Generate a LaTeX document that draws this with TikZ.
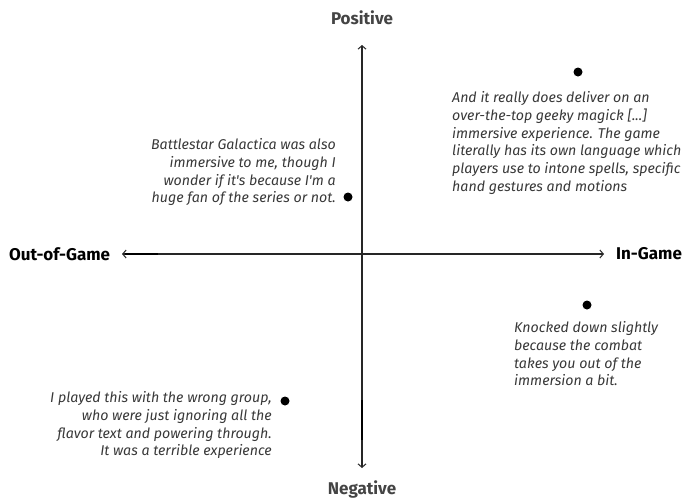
\documentclass[tikz,border=0pt]{standalone}
\usepackage{fontspec}
\usetikzlibrary{arrows.meta}
\newfontfamily\quotefont{Fira Sans}
\newfontfamily\labelfont{Fira Sans}
\definecolor{axisgray}{HTML}{444444}
\tikzset{
  axisline/.style={line width=1.1pt, black!85, {Straight Barb[length=3.5pt,width=8pt,line width=1pt]}-{Straight Barb[length=3.5pt,width=8pt,line width=1pt]}},
  axislabel/.style={font=\labelfont\bfseries\fontsize{17}{19}\selectfont, inner sep=0pt},
  quote/.style={font=\quotefont\itshape\fontsize{14.2}{17.7}\selectfont, inner sep=0pt, text=black!78},
  dotmark/.style={circle, fill=black, inner sep=0pt, minimum size=9pt}
}
\begin{document}
\begin{tikzpicture}[x=1pt,y=-1pt]
\useasboundingbox (0,0) rectangle (683,501);
% axes
\coordinate (top) at (362,45);
\coordinate (bottom) at (362,468);
\coordinate (left) at (122,254);
\coordinate (right) at (604,254);
\coordinate (hs1) at (125,254);
\coordinate (hs2) at (158,254);
\coordinate (vs1) at (362,400);
\coordinate (vs2) at (362,440);
\draw[axisline] (bottom) -- (top);
\draw[axisline] (left) -- (right);
\draw[line width=1.4pt, black] (hs1) -- (hs2);
\draw[line width=1.4pt, black] (vs1) -- (vs2);
% axis labels
\node[axislabel, text=axisgray] (pos) at (362,18) {Positive};
\node[axislabel, text=axisgray] (neg) at (362,489) {Negative};
\node[axislabel, anchor=west, text=black] (out) at (9,254) {Out-of-Game};
\node[axislabel, anchor=west, text=black] (in) at (616,254) {In-Game};
% dots
\node[dotmark] (d1) at (578,72) {};
\node[dotmark] (d2) at (348,197) {};
\node[dotmark] (d3) at (587,305) {};
\node[dotmark] (d4) at (285,401) {};
% quotes
\node[quote, anchor=north west, align=left] (q1) at (452,91.5)
  {And it really does deliver on an\\over-the-top geeky magick [...]\\immersive experience. The game\\literally has its own language which\\players use to intone spells, specific\\hand gestures and motions};
\node[quote, anchor=north east, align=right] (q2) at (336,138.5)
  {Battlestar Galactica was also\\immersive to me, though I\\wonder if it's because I'm a\\huge fan of the series or not.};
\node[quote, anchor=north west, align=left] (q3) at (514,321.5)
  {Knocked down slightly\\because the combat\\takes you out of the\\immersion a bit.};
\node[quote, anchor=north east, align=right] (q4) at (272,391.5)
  {I played this with the wrong group,\\who were just ignoring all the\\flavor text and powering through.\\It was a terrible experience};
\end{tikzpicture}
\end{document}
